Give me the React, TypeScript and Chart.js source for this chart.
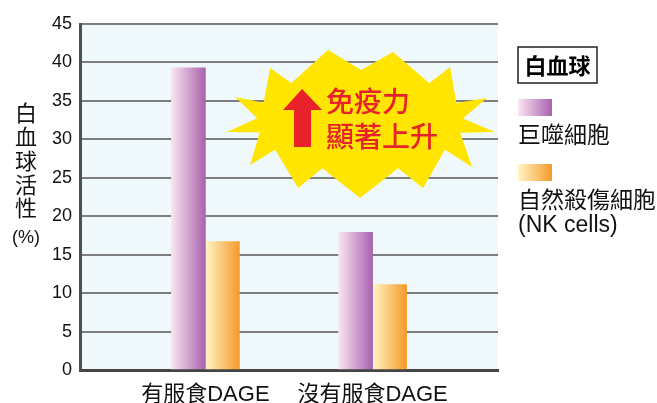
import { useEffect, useRef } from 'react';
import { Chart, registerables } from 'chart.js';

Chart.register(...registerables);

// ---- data ----
const categories = ['有服食DAGE', '沒有服食DAGE'];
const seriesNames = [['巨噬細胞'], ['自然殺傷細胞', '(NK cells)']];
const macrophage = [39.3, 17.9];
const nkCells = [16.7, 11.1];
const yTicks = [0, 5, 10, 15, 20, 25, 30, 35, 40, 45];
const legendTitle = '白血球';
const yTitleChars = ['白', '血', '球', '活', '性'];
const yUnit = '(%)';
const calloutLines = ['免疫力', '顯著上升'];

// ---- styles ----
const W = 657;
const H = 403;
const BAR = 34;
const gradStops = [
  ['#fbe5f1', '#a862ae'],
  ['#fff6c6', '#f59a2a'],
];
const FONT = "'Liberation Sans', 'Noto Sans CJK TC', sans-serif";
const CJK = "'Noto Sans CJK TC', 'Liberation Sans', sans-serif";
const starTips = [
  [-90, -53], [-32, -71], [33, -69], [90, -54], [127, -23], [135, 11],
  [112, 46], [63, 67], [0, 77], [-62, 67], [-110, 44], [-133, 11], [-125, -24],
];

function hGrad(ctx: CanvasRenderingContext2D, x0: number, x1: number, stops: string[]) {
  const g = ctx.createLinearGradient(x0, 0, x1, 0);
  g.addColorStop(0, stops[0]);
  g.addColorStop(1, stops[1]);
  return g;
}

const decorPlugin = {
  id: 'decor',
  beforeDraw(chart: any) {
    const { ctx, chartArea: a } = chart;
    ctx.save();
    ctx.fillStyle = '#eff8fa';
    ctx.fillRect(a.left, a.top, a.right - a.left, a.bottom - a.top);
    ctx.restore();
  },
  afterDraw(chart: any) {
    const { ctx, chartArea: a } = chart;
    ctx.save();
    // y-axis title (vertical)
    ctx.fillStyle = '#111';
    ctx.textAlign = 'center';
    ctx.textBaseline = 'middle';
    ctx.font = `22px ${CJK}`;
    yTitleChars.forEach((c, i) => ctx.fillText(c, 26, 113 + i * 23.75));
    ctx.font = `18px ${FONT}`;
    ctx.fillText(yUnit, 26, 238);

    // legend
    const lx = a.right + 20;
    ctx.strokeStyle = '#222';
    ctx.lineWidth = 1.5;
    ctx.strokeRect(lx, 47, 79, 36);
    ctx.font = `bold 22px ${CJK}`;
    ctx.fillStyle = '#000';
    ctx.fillText(legendTitle, lx + 39.5, 66);
    const swY = [99, 164];
    chart.data.datasets.forEach((ds: any, i: number) => {
      ctx.fillStyle = hGrad(ctx, lx, lx + BAR, gradStops[i]);
      ctx.fillRect(lx, swY[i], BAR, 17);
      ctx.fillStyle = '#111';
      ctx.textAlign = 'left';
      ctx.font = `23px ${FONT}`;
      seriesNames[i].forEach((ln, j) => ctx.fillText(ln, lx, swY[i] + 38 + j * 24));
    });

    // starburst callout
    const cx = a.left + (a.right - a.left) * 0.67;
    const cy = a.top + (a.bottom - a.top) * 0.28;
    const rx = 103;
    const ry = 51;
    ctx.beginPath();
    starTips.forEach((t, i) => {
      const n = starTips[(i + 1) % starTips.length];
      const a1 = Math.atan2(t[1], t[0]);
      let d = Math.atan2(n[1], n[0]) - a1;
      if (d < -Math.PI) d += Math.PI * 2;
      if (d > Math.PI) d -= Math.PI * 2;
      const m = a1 + d / 2;
      if (i === 0) ctx.moveTo(cx + t[0], cy + t[1]);
      else ctx.lineTo(cx + t[0], cy + t[1]);
      ctx.lineTo(cx + rx * Math.cos(m), cy + ry * Math.sin(m));
    });
    ctx.closePath();
    ctx.fillStyle = '#ffe500';
    ctx.fill();

    // arrow
    ctx.beginPath();
    ctx.moveTo(cx - 58, cy - 32);
    ctx.lineTo(cx - 38, cy - 11);
    ctx.lineTo(cx - 49, cy - 11);
    ctx.lineTo(cx - 49, cy + 26);
    ctx.lineTo(cx - 66, cy + 26);
    ctx.lineTo(cx - 66, cy - 11);
    ctx.lineTo(cx - 77, cy - 11);
    ctx.closePath();
    ctx.fillStyle = '#e8212a';
    ctx.fill();

    ctx.font = `500 28px ${CJK}`;
    ctx.textAlign = 'left';
    ctx.fillStyle = '#e8212a';
    calloutLines.forEach((ln, i) => ctx.fillText(ln, cx - 34, cy - 20 + i * 35));
    ctx.restore();
  },
};

function barColor(series: number) {
  return (c: any) => {
    const chart = c.chart;
    const xs = chart.scales?.x;
    if (!chart.chartArea || !xs || c.dataIndex === undefined) return gradStops[series][1];
    const px = xs.getPixelForValue(c.dataIndex);
    const x0 = series === 0 ? px - BAR : px;
    return hGrad(chart.ctx, x0, x0 + BAR, gradStops[series]);
  };
}

export default function App() {
  const ref = useRef<HTMLCanvasElement | null>(null);
  useEffect(() => {
    if (!ref.current) return;
    const series = [macrophage, nkCells];
    const chart = new Chart(ref.current, {
      type: 'bar',
      data: {
        datasets: series.map((vals, s) => ({
          label: seriesNames[s].join(' '),
          data: categories.map((_, i) => ({ x: i, y: vals[i] })),
          backgroundColor: barColor(s),
          borderWidth: 0,
          barThickness: BAR,
        })),
      },
      plugins: [decorPlugin],
      options: {
        animation: false,
        responsive: false,
        layout: { padding: { top: 24, right: 159, left: 0, bottom: 0 } },
        plugins: { legend: { display: false }, tooltip: { enabled: false } },
        scales: {
          x: {
            type: 'linear',
            min: -0.75,
            max: 1.75,
            offset: false,
            bounds: 'data',
            z: 1,
            grid: { display: false, drawTicks: false },
            border: { display: true, color: '#444', width: 3 },
            afterBuildTicks: (s: any) => {
              s.ticks = categories.map((_, i) => ({ value: i }));
            },
            afterFit: (s: any) => {
              s.height = 33;
            },
            ticks: {
              autoSkip: false,
              maxRotation: 0,
              padding: 12,
              color: '#111',
              font: { family: FONT, size: 22 },
              callback: (v: any) => categories[v] ?? '',
            },
          },
          y: {
            min: 0,
            max: 45,
            afterBuildTicks: (s: any) => {
              s.ticks = yTicks.map((v) => ({ value: v }));
            },
            afterFit: (s: any) => {
              s.width = 80;
            },
            grid: { color: '#7d7d7d', lineWidth: 2, drawTicks: false },
            border: { display: true, color: '#505050', width: 3 },
            ticks: {
              padding: 8,
              color: '#111',
              font: { family: FONT, size: 18 },
            },
          },
        },
      } as any,
    });
    return () => chart.destroy();
  }, []);
  return (
    <canvas
      ref={ref}
      width={W}
      height={H}
      style={{ position: 'absolute', left: 0, top: 0, width: W, height: H, display: 'block' }}
    />
  );
}
